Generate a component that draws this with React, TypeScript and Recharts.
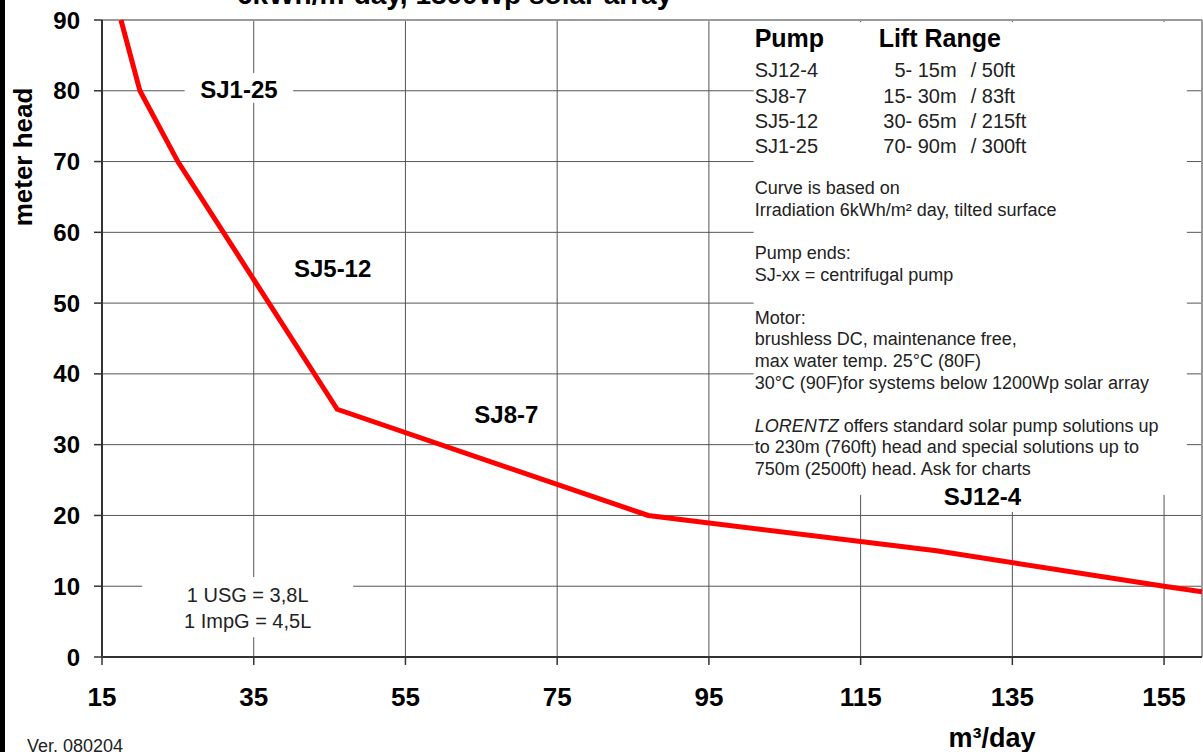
import React from "react";
import {
  CartesianGrid,
  Line,
  LineChart,
  ReferenceArea,
  ReferenceLine,
  XAxis,
  YAxis,
} from "recharts";

// pump curve
const flowM3Day = [17.5, 20, 25, 46, 87, 125, 155, 160];
const headMeters = [90, 80, 70, 35, 20, 15, 10, 9.2];

const xTicks = [15, 35, 55, 75, 95, 115, 135, 155];
const yTicks = [0, 10, 20, 30, 40, 50, 60, 70, 80, 90];

const pumpNames = ["SJ12-4", "SJ8-7", "SJ5-12", "SJ1-25"];
const liftRanges = ["5- 15m", "15- 30m", "30- 65m", "70- 90m"];
const liftFeet = ["/ 50ft", "/ 83ft", "/ 215ft", "/ 300ft"];

const notes = [
  "Curve is based on",
  "Irradiation 6kWh/m² day, tilted surface",
  "",
  "Pump ends:",
  "SJ-xx = centrifugal pump",
  "",
  "Motor:",
  "brushless DC, maintenance free,",
  "max water temp. 25°C  (80F)",
  "30°C (90F)for systems below 1200Wp solar array",
  "",
  "LORENTZ offers standard solar pump solutions up",
  "to 230m (760ft) head and special solutions up to",
  "750m (2500ft) head. Ask for charts",
];

const unitLines = ["1 USG = 3,8L", "1 ImpG = 4,5L"];

const data = flowM3Day.map((x, i) => ({ x, head: headMeters[i] }));

const FONT = "'Liberation Sans', Arial, sans-serif";

type BoxProps = { x?: number; y?: number; width?: number; height?: number };

function labelBox(lines: string[], baselines: number[], size: number, bold: boolean) {
  return (p: BoxProps) => {
    const x = p.x ?? 0;
    const y = p.y ?? 0;
    const w = p.width ?? 0;
    const h = p.height ?? 0;
    return (
      <g>
        <rect x={x} y={y} width={w} height={h} fill="#fff" />
        {lines.map((t, i) => (
          <text
            key={t}
            x={x + w / 2}
            y={y + baselines[i]}
            textAnchor="middle"
            fontFamily={FONT}
            fontSize={size}
            fontWeight={bold ? 700 : 400}
            fill={bold ? "#000" : "#222"}
          >
            {t}
          </text>
        ))}
      </g>
    );
  };
}

function InfoBox(p: BoxProps) {
  const x = p.x ?? 0;
  const y = p.y ?? 0;
  return (
    <g fontFamily={FONT}>
      <rect x={x} y={y} width={p.width} height={p.height} fill="#fff" />
      <text x={x + 1} y={y + 25} fontSize={25} fontWeight={700} fill="#000">
        Pump
      </text>
      <text x={x + 125} y={y + 25} fontSize={25} fontWeight={700} fill="#000">
        Lift Range
      </text>
      {pumpNames.map((name, i) => (
        <g key={name} fontSize={20} fill="#222">
          <text x={x + 1} y={y + 55 + i * 25.4}>
            {name}
          </text>
          <text x={x + 203} y={y + 55 + i * 25.4} textAnchor="end">
            {liftRanges[i]}
          </text>
          <text x={x + 217} y={y + 55 + i * 25.4}>
            {liftFeet[i]}
          </text>
        </g>
      ))}
      {notes.map((line, i) =>
        line === "" ? null : (
          <text key={i} x={x + 1} y={y + 172 + i * 21.6} fontSize={18} fill="#222">
            {line.startsWith("LORENTZ") ? (
              <>
                <tspan fontStyle="italic">LORENTZ</tspan>
                {line.slice(7)}
              </>
            ) : (
              line
            )}
          </text>
        )
      )}
    </g>
  );
}

export default function App() {
  return (
    <div style={{ position: "absolute", left: 0, top: 0, width: 1203, height: 752, background: "#fff", overflow: "hidden" }}>
      <LineChart
        width={1203}
        height={752}
        data={data}
        margin={{ top: 20, right: 1, bottom: 0, left: 0 }}
      >
        <CartesianGrid stroke="#555" strokeWidth={1} />
        <XAxis
          dataKey="x"
          type="number"
          domain={[15, 160]}
          ticks={xTicks}
          allowDataOverflow
          height={95}
          tickSize={8}
          tickMargin={23}
          axisLine={{ stroke: "#333", strokeWidth: 2 }}
          tickLine={{ stroke: "#333", strokeWidth: 1.5 }}
          tick={{ fill: "#000", fontSize: 26, fontWeight: 700, fontFamily: FONT }}
        />
        <YAxis
          type="number"
          domain={[0, 90]}
          ticks={yTicks}
          width={102}
          tickSize={8}
          tickMargin={14}
          axisLine={{ stroke: "#333", strokeWidth: 2 }}
          tickLine={{ stroke: "#333", strokeWidth: 1.5 }}
          tick={{ fill: "#000", fontSize: 24, fontWeight: 700, fontFamily: FONT }}
        />
        <ReferenceLine y={90} stroke="#9a9a9a" strokeWidth={2} />
        <ReferenceLine x={160} stroke="#9a9a9a" strokeWidth={2} />
        <ReferenceArea x1={100.9} x2={158.0} y1={22.9} y2={89.7} shape={InfoBox} />
        <ReferenceArea x1={25.9} x2={40.2} y1={78.3} y2={82.5} shape={labelBox(["SJ1-25"], [25], 24, true)} />
        <ReferenceArea x1={39.8} x2={51.0} y1={53.0} y2={56.8} shape={labelBox(["SJ5-12"], [22], 24, true)} />
        <ReferenceArea x1={63.5} x2={73.1} y1={32.4} y2={36.0} shape={labelBox(["SJ8-7"], [21], 24, true)} />
        <ReferenceArea x1={124.8} x2={137.3} y1={20.5} y2={25.3} shape={labelBox(["SJ12-4"], [27], 24, true)} />
        <ReferenceArea x1={20.3} x2={48.1} y1={2.8} y2={11.3} shape={labelBox(unitLines, [25, 51], 20, false)} />
        <Line
          type="linear"
          dataKey="head"
          stroke="#ff0000"
          strokeWidth={5}
          dot={false}
          activeDot={false}
          isAnimationActive={false}
        />
      </LineChart>
      <svg
        width={1203}
        height={752}
        style={{ position: "absolute", left: 0, top: 0, pointerEvents: "none" }}
        fontFamily={FONT}
      >
        <rect x={0} y={0} width={5} height={752} fill="#000" />
        <text x={237} y={4} fontSize={28} fontWeight={700} fill="#000">
          6kWh/m²day, 1800Wp solar array
        </text>
        <text
          x={23}
          y={157}
          fontSize={26}
          fontWeight={700}
          textAnchor="middle"
          dy="0.35em"
          transform="rotate(-90 23 157)"
          fill="#000"
        >
          meter head
        </text>
        <text x={992} y={747} fontSize={27} fontWeight={700} textAnchor="middle" fill="#000">
          m³/day
        </text>
        <text x={27} y={752} fontSize={18} fill="#222">
          Ver. 080204
        </text>
      </svg>
    </div>
  );
}
